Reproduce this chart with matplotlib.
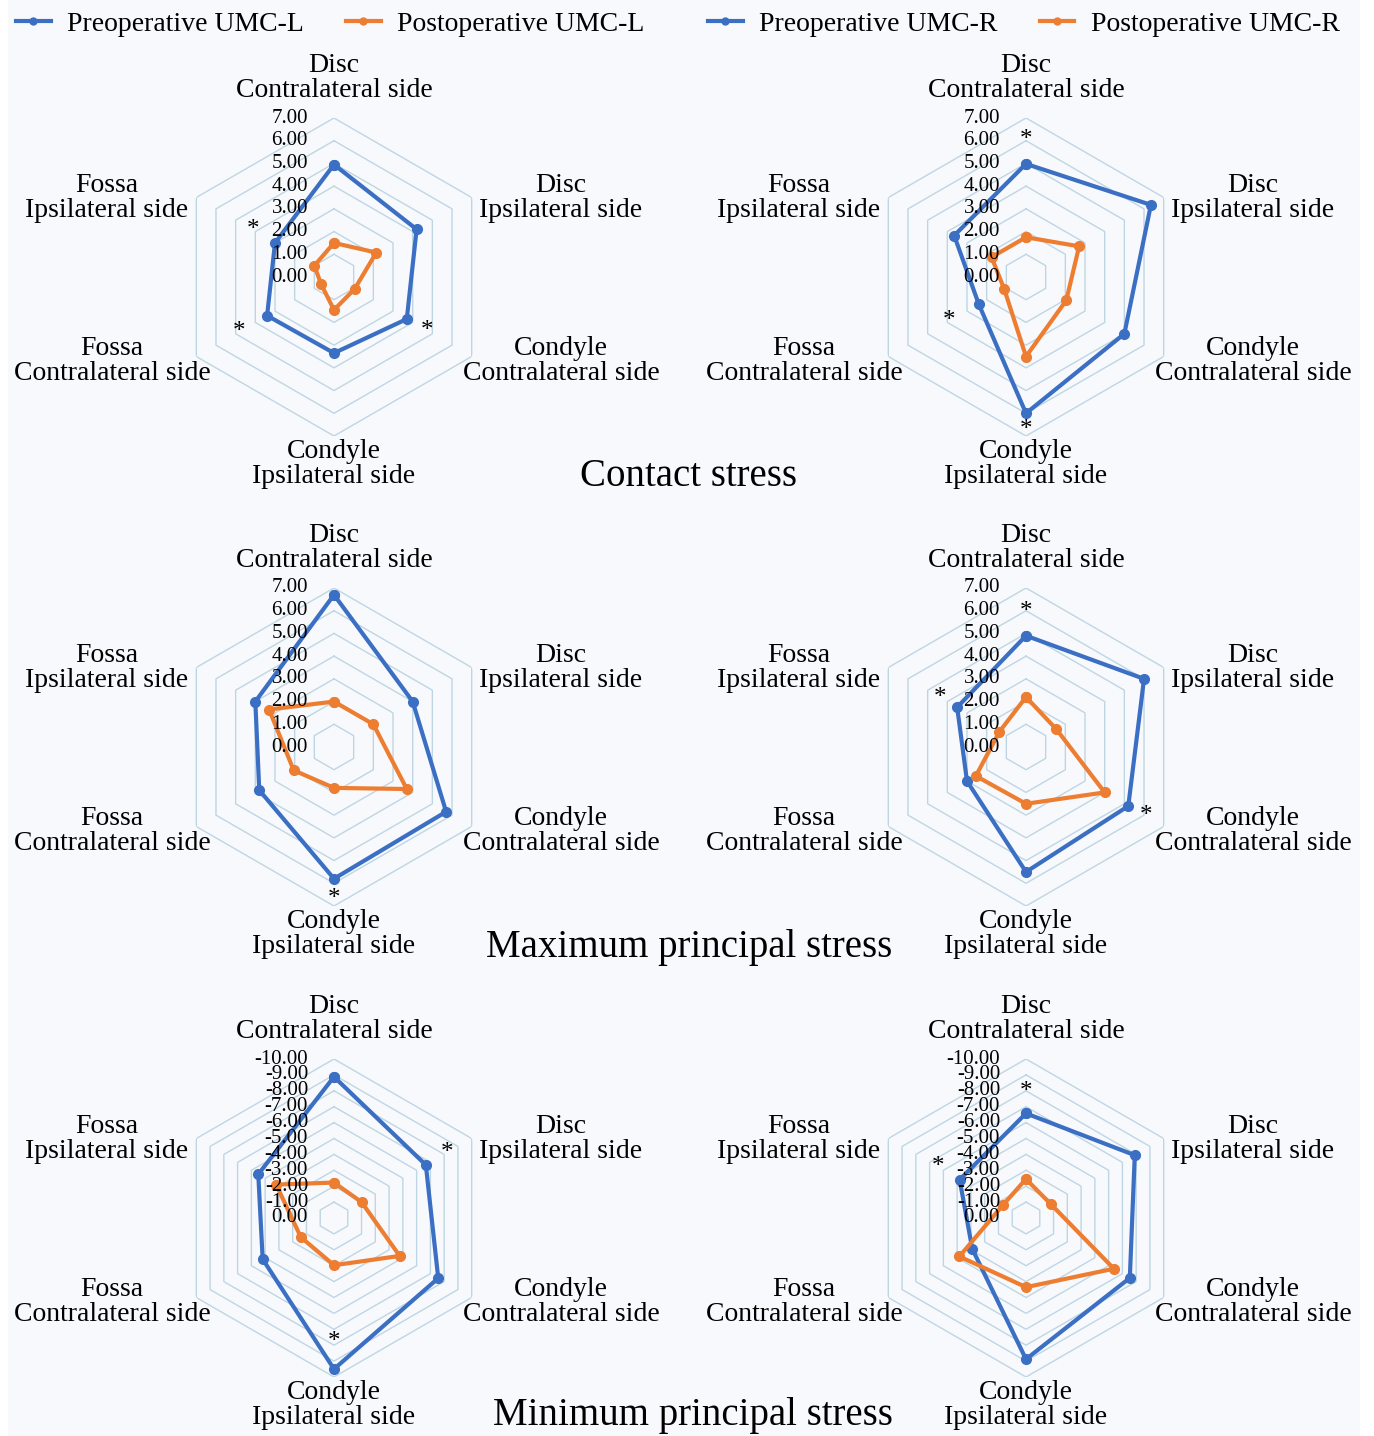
import numpy as np
import matplotlib
matplotlib.use('Agg')
import matplotlib.pyplot as plt
from matplotlib.lines import Line2D
from matplotlib.patches import Rectangle

plt.rcParams['font.family'] = ['Liberation Serif', 'DejaVu Serif']

# categories, clockwise from the top
categories = ['Disc\nContralateral side', 'Disc\nIpsilateral side',
              'Condyle\nContralateral side', 'Condyle\nIpsilateral side',
              'Fossa\nContralateral side', 'Fossa\nIpsilateral side']

# contact stress
contact_pre_L = [4.95, 4.2, 3.7, 3.35, 3.4, 3.0]
contact_post_L = [1.5, 2.15, 1.05, 1.45, 0.65, 1.0]
contact_pre_R = [4.98, 6.35, 5.0, 6.0, 2.4, 3.65]
contact_post_R = [1.75, 2.7, 2.05, 3.5, 1.1, 1.75]

# maximum principal stress
max_pre_L = [6.7, 4.0, 5.7, 5.8, 3.8, 4.0]
max_post_L = [2.0, 2.0, 3.7, 1.8, 2.05, 3.3]
max_pre_R = [4.9, 6.0, 5.2, 5.5, 3.0, 3.5]
max_post_R = [2.2, 1.55, 4.0, 2.5, 2.55, 1.35]

# minimum principal stress
min_pre_L = [-8.88, -6.67, -7.57, -9.5, -5.18, -5.5]
min_post_L = [-2.23, -2.0, -4.77, -2.97, -2.41, -4.2]
min_pre_R = [-6.58, -7.9, -7.54, -8.88, -3.9, -4.82]
min_post_R = [-2.45, -1.78, -6.38, -4.35, -4.84, -1.66]

# significance marks: (category index, radius)
stars_contact_L = [(5, 4.1), (4, 4.85), (2, 4.75)]
stars_contact_R = [(0, 6.05), (4, 3.9), (3, 6.75)]
stars_max_L = [(3, 6.7)]
stars_max_R = [(0, 5.95), (5, 4.35), (2, 6.1)]
stars_min_L = [(1, -8.2), (3, -7.8)]
stars_min_R = [(0, -7.95), (5, -6.4)]

contact_ticks = [0, 1, 2, 3, 4, 5, 6, 7]
min_ticks = [0, -1, -2, -3, -4, -5, -6, -7, -8, -9, -10]

titles = ['Contact stress', 'Maximum principal stress', 'Minimum principal stress']
legend_L = ['Preoperative UMC-L', 'Postoperative UMC-L']
legend_R = ['Preoperative UMC-R', 'Postoperative UMC-R']

BLUE = '#3b6fc4'
ORANGE = '#ed7d31'
GRID = '#bed6e3'

W, H = 1374, 1436
fig = plt.figure(figsize=(W / 100, H / 100), dpi=100)
fig.patch.set_facecolor('white')
fig.patches.append(Rectangle((8 / W, 0), 1352 / W, 1, transform=fig.transFigure,
                             facecolor='#f8f9fc', edgecolor='none', zorder=-10))

angles = np.arange(6) * 2 * np.pi / 6
R = 159

# label offsets in pixels (x right, y down) from chart centre
lab_off = [(0, -199), (227, -79), (227, 84), (0, 187), (-222, 84), (-227, -79)]


def radar(cx, cy, pre, post, ticks, stars):
    ax = fig.add_axes([(cx - R) / W, 1 - (cy + R) / H, 2 * R / W, 2 * R / H],
                      projection='polar')
    ax.set_theta_offset(np.pi / 2)
    ax.set_theta_direction(-1)
    ax.set_facecolor('none')
    ax.grid(False)
    ax.spines['polar'].set_visible(False)
    ax.set_xticks([])
    ax.set_yticks([])
    ax.set_ylim(0, ticks[-1])
    closed = np.append(angles, angles[0])
    for t in ticks[1:]:
        ax.plot(closed, [t] * 7, color=GRID, lw=1.0, zorder=1)
    ax.plot(closed, list(pre) + [pre[0]], color=BLUE, lw=3.0, marker='o',
            ms=7, zorder=3, clip_on=False)
    ax.plot(closed, list(post) + [post[0]], color=ORANGE, lw=3.0, marker='o',
            ms=7, zorder=3, clip_on=False)
    for t in ticks:
        ax.annotate('%.2f' % t, xy=(0, t), xytext=(-26, 0), textcoords='offset pixels',
                    ha='right', va='center', fontsize=15, zorder=4)
    for i, r in stars:
        ax.text(angles[i], r, '*', ha='center', va='center', fontsize=18, zorder=5)
    for lab, (dx, dy) in zip(categories, lab_off):
        ax.annotate(lab, xy=(0, 0), xytext=(dx, -dy), textcoords='offset pixels',
                    ha='center', va='center', multialignment='center',
                    fontsize=20, linespacing=0.97, annotation_clip=False)
    return ax


radar(334, 277, contact_pre_L, contact_post_L, contact_ticks, stars_contact_L)
radar(1026, 277, contact_pre_R, contact_post_R, contact_ticks, stars_contact_R)
radar(334, 747, max_pre_L, max_post_L, contact_ticks, stars_max_L)
radar(1026, 747, max_pre_R, max_post_R, contact_ticks, stars_max_R)
radar(334, 1218, min_pre_L, min_post_L, min_ticks, stars_min_L)
radar(1026, 1218, min_pre_R, min_post_R, min_ticks, stars_min_R)

for title, (tx, ty) in zip(titles, [(689, 477), (689, 947), (693, 1416)]):
    fig.text(tx / W, 1 - ty / H, title, ha='center', va='center', fontsize=28)

handles = [Line2D([], [], color=BLUE, lw=3.0, marker='o', ms=5),
           Line2D([], [], color=ORANGE, lw=3.0, marker='o', ms=5)]
for labels, x0 in [(legend_L, 16), (legend_R, 708)]:
    fig.legend(handles, labels, loc='center left', bbox_to_anchor=(x0 / W, 1 - 24 / H),
               ncol=2, frameon=False, fontsize=20, handlelength=1.25,
               handletextpad=0.6, columnspacing=1.5, borderpad=0, borderaxespad=0)

fig.savefig('out.png', dpi=100)
